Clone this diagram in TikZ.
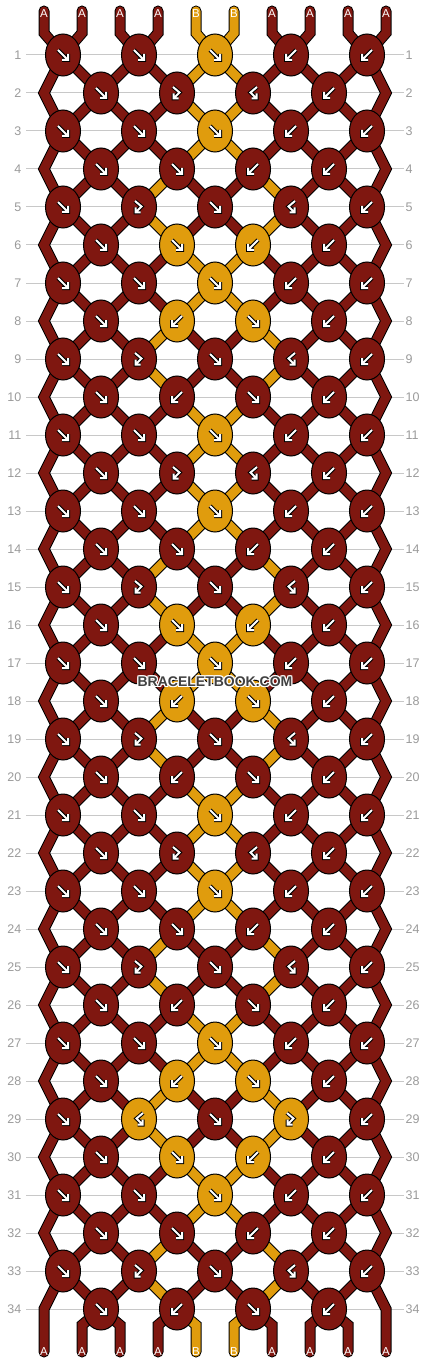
\documentclass[tikz,border=0pt]{standalone}
\usepackage{fontspec}
\setmainfont{Liberation Sans}
\usetikzlibrary{shapes.geometric}
\definecolor{cA}{HTML}{7F1710}
\definecolor{cB}{HTML}{E09C0D}
\definecolor{gridc}{HTML}{C8C8C8}
\definecolor{numc}{HTML}{9B9B9B}
\definecolor{wmc}{HTML}{404040}
\pgfdeclarelayer{gridlayer}
\pgfdeclarelayer{strlayer}
\pgfsetlayers{gridlayer,strlayer,main}
\tikzset{
  knot/.style={ellipse, draw=black, line width=1pt, minimum width=35pt, minimum height=42pt, inner sep=0pt, outer sep=0pt},
  str/.style={draw=black, line width=1pt, double=#1, double distance=9pt, line join=miter},
  arrO/.style={draw=black, line width=4pt, line join=miter, line cap=butt},
  arrI/.style={draw=white, line width=2pt, line join=miter, line cap=butt},
  rownum/.style={font=\fontsize{12.5}{14}\selectfont, text=numc, inner sep=0pt},
  lab/.style={font=\fontsize{11.5}{12}\selectfont, text=white, inner sep=0pt},
  wm/.style={font=\bfseries\fontsize{14}{16}\selectfont, inner sep=0pt},
  gridline/.style={draw=gridc, line width=1pt},
}
\newcommand\arrowf[2]{%
 \draw[arrO,shift={(#1,#2)}] (-5,-5)--(4.2,4.2) (5,-1)--(5,5)--(-1,5);
 \draw[arrI,shift={(#1,#2)}] (-5,-5)--(4.2,4.2) (5,-1)--(5,5)--(-1,5);}
\newcommand\arrowb[2]{%
 \draw[arrO,shift={(#1,#2)}] (5,-5)--(-4.2,4.2) (-5,-1)--(-5,5)--(1,5);
 \draw[arrI,shift={(#1,#2)}] (5,-5)--(-4.2,4.2) (-5,-1)--(-5,5)--(1,5);}
\newcommand\arrowfb[2]{%
 \draw[arrO,shift={(#1,#2)}] (-4,-6)--(2.5,-0.5)--(-2.8,4.8) (-3.5,0.5)--(-3.5,5.5)--(1.5,5.5);
 \draw[arrI,shift={(#1,#2)}] (-4,-6)--(2.5,-0.5)--(-2.8,4.8) (-3.5,0.5)--(-3.5,5.5)--(1.5,5.5);}
\newcommand\arrowbf[2]{%
 \draw[arrO,shift={(#1,#2)}] (4,-6)--(-2.5,-0.5)--(2.8,4.8) (3.5,0.5)--(3.5,5.5)--(-1.5,5.5);
 \draw[arrI,shift={(#1,#2)}] (4,-6)--(-2.5,-0.5)--(2.8,4.8) (3.5,0.5)--(3.5,5.5)--(-1.5,5.5);}
\def\patOa{f/A,f/A,f/B,b/A,b/A}
\def\patOb{f/A,fb/A,f/A,bf/A,b/A}
\def\patOc{f/A,bf/B,f/A,fb/B,b/A}
\def\patEa{f/A,fb/A,bf/A,b/A}
\def\patEb{f/A,f/A,b/A,b/A}
\def\patEc{f/A,f/B,b/B,b/A}
\def\patEd{f/A,b/B,f/B,b/A}
\def\patEe{f/A,b/A,f/A,b/A}
\def\stlist{0,0,0,0,1,1,0,0,1,1,0,0,0,0,1,1,0,0,1,1,0,0,0,0,1,1,0,0,1,1,0,0,1,1,0}
\newcommand\colorof[2]{\pgfmathtruncatemacro\tmpcb{((#1==0)&&((#2==4)||(#2==5)))||((#1==1)&&((#2==3)||(#2==6)))}\ifnum\tmpcb=1 \def\cc{cB}\else\def\cc{cA}\fi}
\begin{document}
\begin{tikzpicture}[x=1pt,y=-1pt]
\useasboundingbox (0,0) rectangle (430,1364);
\begin{pgfonlayer}{gridlayer}
\fill[white] (0,0) rectangle (430,1364);
\foreach \r in {1,...,34}{
  \pgfmathsetmacro\y{55+38*(\r-1)}
  \coordinate (gl-\r) at (26,\y);
  \coordinate (gr-\r) at (404,\y);
  \draw[gridline] (gl-\r) -- (gr-\r);
  \node[rownum, anchor=east] (numl-\r) at (21.5,\y) {\r};
  \node[rownum, anchor=west] (numr-\r) at (405.5,\y) {\r};
}
\end{pgfonlayer}
% knots
\foreach \pat [count=\r] in {Oa,Ea,Oa,Eb,Ob,Ec,Oa,Ed,Ob,Ee,Oa,Ea,Oa,Eb,Ob,Ec,Oa,Ed,Ob,Ee,Oa,Ea,Oa,Eb,Ob,Ee,Oa,Ed,Oc,Ec,Oa,Eb,Ob,Ee}{
  \expandafter\let\expandafter\klist\csname pat\pat\endcsname
  \pgfmathsetmacro\y{55+38*(\r-1)}
  \foreach \ty/\kc [count=\kk from 0] in \klist {
    \pgfmathsetmacro\x{mod(\r,2)==1 ? 63+76*\kk : 101+76*\kk}
    \node[knot, fill=c\kc] (n-\r-\kk) at (\x,\y) {};
    \csname arrow\ty\endcsname{\x}{\y}
  }
}
% string end points
\foreach \i in {0,...,9}{
  \pgfmathsetmacro\xi{44+38*\i}
  \coordinate (t-\i) at (\xi,11);
  \coordinate (tb-\i) at (\xi,33);
  \coordinate (bb-\i) at (\xi,1325);
  \coordinate (b-\i) at (\xi,1352);
}
\foreach \r in {1,3,...,33}{
  \pgfmathsetmacro\y{55+38*\r}
  \coordinate (L-\r) at (44,\y);
  \coordinate (R-\r) at (386,\y);
}
\begin{pgfonlayer}{strlayer}
\draw[str=cA, line cap=round] (t-0) -- (tb-0) \foreach \r in {1,3,...,33}{ -- (n-\r-0.center) -- (L-\r)} -- (b-0);
\draw[str=cA, line cap=round] (t-9) -- (tb-9) \foreach \r in {1,3,...,33}{ -- (n-\r-4.center) -- (R-\r)} -- (b-9);
\foreach \i in {1,...,8}{
  \pgfmathtruncatemacro\kk{\i/2}
  \colorof{0}{\i}
  \draw[str=\cc, line cap=round] (t-\i) -- (tb-\i) -- (n-1-\kk.center);
}
\foreach \i in {1,...,8}{
  \pgfmathtruncatemacro\kk{(\i-1)/2}
  \colorof{0}{\i}
  \draw[str=\cc, line cap=round] (n-34-\kk.center) -- (bb-\i) -- (b-\i);
}
\foreach \r in {1,...,33}{
  \pgfmathtruncatemacro\rn{\r+1}
  \pgfmathtruncatemacro\s{{\stlist}[\r]}
  \ifodd\r
    \foreach \kk in {0,...,4}{
      \ifnum\kk>0
        \pgfmathtruncatemacro\tk{\kk-1}
        \pgfmathtruncatemacro\ps{2*\kk}
        \colorof{\s}{\ps}
        \draw[str=\cc] (n-\r-\kk.center) -- (n-\rn-\tk.center);
      \fi
      \ifnum\kk<4
        \pgfmathtruncatemacro\ps{2*\kk+1}
        \colorof{\s}{\ps}
        \draw[str=\cc] (n-\r-\kk.center) -- (n-\rn-\kk.center);
      \fi
    }
  \else
    \foreach \kk in {0,...,3}{
      \pgfmathtruncatemacro\ps{2*\kk+1}
      \colorof{\s}{\ps}
      \draw[str=\cc] (n-\r-\kk.center) -- (n-\rn-\kk.center);
      \pgfmathtruncatemacro\tk{\kk+1}
      \pgfmathtruncatemacro\ps{2*\kk+2}
      \colorof{\s}{\ps}
      \draw[str=\cc] (n-\r-\kk.center) -- (n-\rn-\tk.center);
    }
  \fi
}
\end{pgfonlayer}
% labels
\foreach \lb [count=\i from 0] in {A,A,A,A,B,B,A,A,A,A}{
  \pgfmathsetmacro\xi{44+38*\i}
  \node[lab] (lt-\i) at (\xi,13.3) {\lb};
  \node[lab] (lb-\i) at (\xi,1351.5) {\lb};
}
% watermark
\foreach \dx/\dy [count=\h] in {1/0,-1/0,0/1,0/-1,1/1,1/-1,-1/1,-1/-1}{
  \node[wm, text=white] (wmh-\h) at (215+\dx,681.5+\dy) {BRACELETBOOK.COM};
}
\node[wm, text=wmc] (wm) at (215,681.5) {BRACELETBOOK.COM};
\end{tikzpicture}
\end{document}
